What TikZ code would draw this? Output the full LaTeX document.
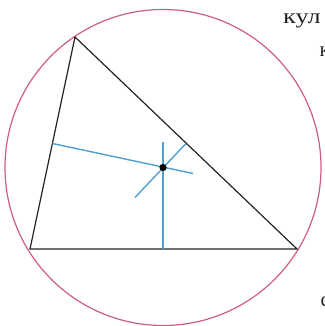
\documentclass[tikz,border=0pt]{standalone}
\usepackage{fontspec}
\setmainfont{Liberation Serif}
\definecolor{circ}{RGB}{206,92,135}
\definecolor{bis}{RGB}{78,160,205}
\definecolor{tri}{RGB}{35,35,35}
\tikzset{
  triline/.style={draw=tri, line width=1.2pt},
  circline/.style={draw=circ, line width=1.2pt},
  bisline/.style={draw=bis, line width=1.4pt},
  pagetext/.style={font=\fontsize{21}{23}\selectfont, text=tri, inner sep=0pt, anchor=base west}
}
\begin{document}
\begin{tikzpicture}[x=1pt,y=-1pt]
\useasboundingbox (0,0) rectangle (324,326);
\clip (0,0) rectangle (324,326);
\coordinate (A) at (75,37);
\coordinate (B) at (30,249);
\coordinate (C) at (297,249);
\coordinate (O) at (163,167.5);
\coordinate (Mbc) at (163,249);
\coordinate (Mab) at (52.5,143.5);
\coordinate (Mac) at (185.5,144);
\coordinate (Ebc) at (163,142);
\coordinate (Eab) at (193,173.5);
\coordinate (Eac) at (135,197.5);
\draw[circline] (O) circle (158);
\draw[triline, line join=miter] (A) -- (B) -- (C) -- cycle;
\draw[bisline] (Mbc) -- (Ebc);
\draw[bisline] (Mab) -- (Eab);
\draw[bisline] (Mac) -- (Eac);
\fill[black] (O) circle (3.6);
\node[pagetext] (t1) at (283,24) {\scalebox{1.25}[1]{кул}};
\node[pagetext] (t2) at (319.5,57) {к};
\node[pagetext] (t3) at (320.5,306) {с};
\end{tikzpicture}
\end{document}
